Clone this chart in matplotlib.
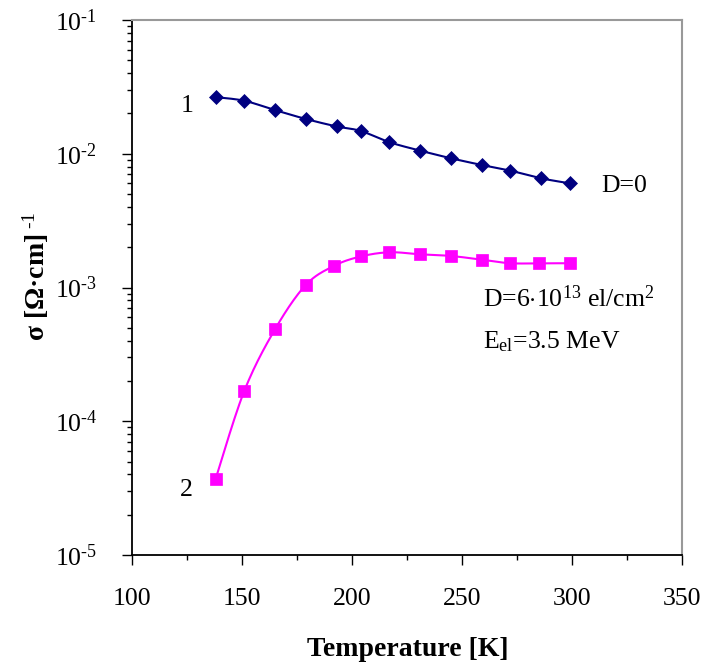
import numpy as np
import matplotlib
matplotlib.use("Agg")
import matplotlib.pyplot as plt
from matplotlib.ticker import FixedLocator, FuncFormatter, LogLocator, NullFormatter

plt.rcParams['font.family'] = ['Liberation Serif', 'DejaVu Serif']
plt.rcParams['mathtext.fontset'] = 'custom'
plt.rcParams['mathtext.rm'] = 'Liberation Serif'
plt.rcParams['mathtext.bf'] = 'Liberation Serif:bold'
plt.rcParams['mathtext.it'] = 'Liberation Serif:italic'
plt.rcParams['axes.unicode_minus'] = False

# ---- data ----
temp1 = [138, 151, 165, 179, 193, 204, 217, 231, 245, 259, 272, 286, 299]
sigma1 = [0.0265, 0.0249, 0.0212, 0.0182, 0.0160, 0.0148, 0.0122, 0.01055,
          0.00925, 0.00824, 0.00747, 0.00655, 0.00601]
temp2 = [138, 151, 165, 179, 192, 204, 217, 231, 245, 259, 272, 285, 299]
sigma2 = [3.70e-5, 1.68e-4, 4.87e-4, 1.045e-3, 1.456e-3, 1.706e-3, 1.834e-3,
          1.771e-3, 1.721e-3, 1.614e-3, 1.518e-3, 1.518e-3, 1.518e-3]
xticks = [100, 150, 200, 250, 300, 350]
yticks = [1e-5, 1e-4, 1e-3, 1e-2, 1e-1]


def smooth(x, y, n=20):
    """Uniform Catmull-Rom (Excel-like smoothing) in (x, log10 y)."""
    x = np.asarray(x, float)
    ly = np.log10(np.asarray(y, float))
    P = np.column_stack([x, ly])
    P = np.vstack([P[0], P, P[-1]])
    out = []
    for i in range(1, len(P) - 2):
        p0, p1, p2, p3 = P[i - 1], P[i], P[i + 1], P[i + 2]
        t = np.linspace(0, 1, n, endpoint=False)[:, None]
        c = 0.5 * ((2 * p1) + (-p0 + p2) * t + (2 * p0 - 5 * p1 + 4 * p2 - p3) * t ** 2
                   + (-p0 + 3 * p1 - 3 * p2 + p3) * t ** 3)
        out.append(c)
    out.append(P[-2][None, :])
    out = np.vstack(out)
    return out[:, 0], 10 ** out[:, 1]


W, H = 707, 665
fig = plt.figure(figsize=(W / 100, H / 100), dpi=100)
ax = fig.add_axes([132 / W, 1 - 555 / H, 550 / W, 535 / H])

navy = '#000080'
mag = '#FF00FF'

sx, sy = smooth(temp1, sigma1)
ax.plot(sx, sy, color=navy, lw=1.5, zorder=2)
ax.plot(temp1, sigma1, ls='none', marker='D', ms=7.2, color=navy, mec=navy, mew=0.5, zorder=3)
sx, sy = smooth(temp2, sigma2)
ax.plot(sx, sy, color=mag, lw=1.5, zorder=2)
ax.plot(temp2, sigma2, ls='none', marker='s', ms=8.0, color=mag, mec=mag, mew=0.5, zorder=3)

ax.set_yscale('log')
ax.set_xlim(100, 350)
ax.set_ylim(1e-5, 1e-1)

ax.xaxis.set_major_locator(FixedLocator(xticks))
ax.xaxis.set_minor_locator(FixedLocator([125, 175, 225, 275, 325]))
ax.yaxis.set_major_locator(FixedLocator(yticks))
ax.yaxis.set_minor_locator(LogLocator(base=10, subs=np.arange(2, 10)))
ax.yaxis.set_minor_formatter(NullFormatter())


def yfmt(v, pos):
    e = int(round(np.log10(v)))
    return r'$\mathregular{10^{\text{%d}}}$' % e


ax.yaxis.set_major_formatter(FuncFormatter(yfmt))
ax.xaxis.set_major_formatter(FuncFormatter(lambda v, p: '%d' % v))

ax.tick_params(axis='both', which='major', direction='out', length=7, width=1.0,
               labelsize=18.5, color='black')
ax.tick_params(axis='both', which='minor', direction='out', length=3.8, width=1.0, color='black')
ax.tick_params(axis='x', which='major', pad=17)
ax.tick_params(axis='y', which='major', pad=18)

for s in ['left', 'bottom']:
    ax.spines[s].set_color('black')
    ax.spines[s].set_linewidth(1.3)
for s in ['top', 'right']:
    ax.spines[s].set_color('#999999')
    ax.spines[s].set_linewidth(1.5)

fs = 18.5
fig.text(181 / W, 1 - 112 / H, '1', fontsize=fs, va='baseline')
fig.text(180 / W, 1 - 496.5 / H, '2', fontsize=fs, va='baseline')
fig.text(601 / W, 1 - 192.5 / H, 'D=0', fontsize=fs, va='baseline')
fig.text(483 / W, 1 - 306.5 / H, r'D=6$\cdot$10$^{\mathregular{13}}$ el/cm$^{\mathregular{2}}$',
         fontsize=fs, va='baseline')
fig.text(483 / W, 1 - 348 / H, r'E$_{\mathregular{el}}$=3.5 MeV', fontsize=fs, va='baseline')

fig.text(408 / W, 1 - 650 / H, 'Temperature [K]', fontsize=20, fontweight='bold',
         ha='center', va='center')
fig.text(36 / W, 1 - 276 / H, r'σ [Ω·cm]$^{\mathbf{\ \text{-1}}}$', fontsize=20, fontweight='bold',
         rotation=90, ha='center', va='center')

fig.savefig('out.png', dpi=100)
